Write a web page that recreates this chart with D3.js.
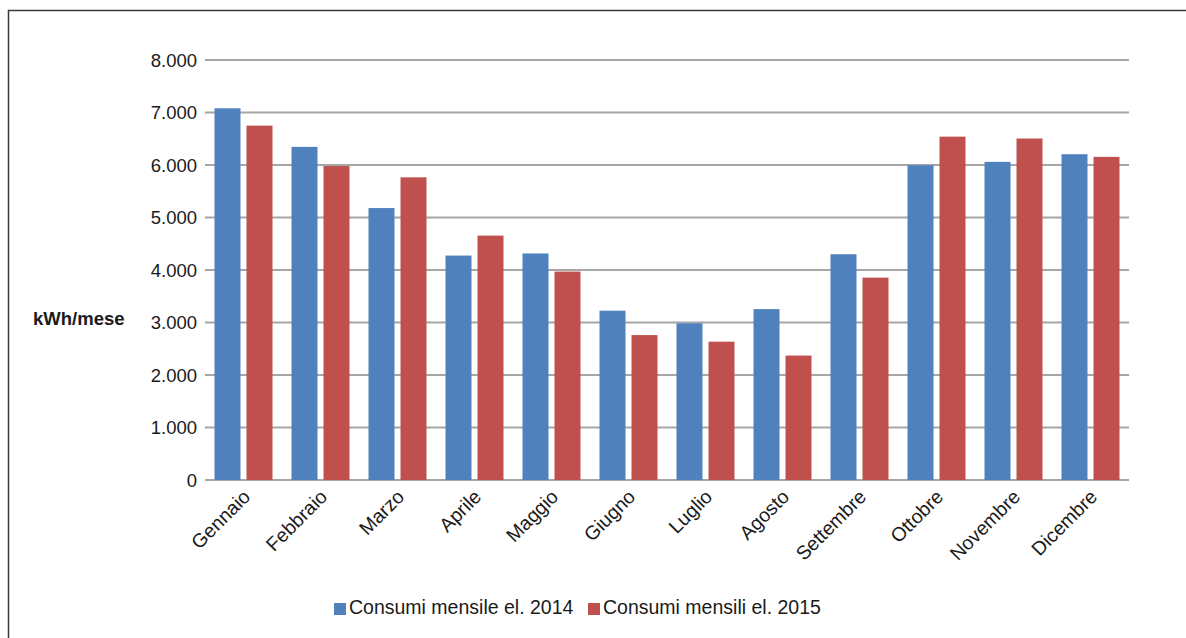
<!DOCTYPE html>
<html>
<head>
<meta charset="utf-8">
<script src="https://cdn.jsdelivr.net/npm/d3@7"></script>
<style>
  html, body { margin: 0; padding: 0; background: #fff; }
  svg { display: block; }
  text { font-family: "Liberation Sans", Arial, sans-serif; fill: #1a1a1a; }
</style>
</head>
<body>
<svg id="chart" width="1186" height="638"></svg>
<script>
// Monthly electricity consumption, kWh per month
const months = ["Gennaio", "Febbraio", "Marzo", "Aprile", "Maggio", "Giugno",
                "Luglio", "Agosto", "Settembre", "Ottobre", "Novembre", "Dicembre"];
const consumi2014 = [7080, 6345, 5180, 4275, 4315, 3225, 2985, 3255, 4300, 5995, 6060, 6205];
const consumi2015 = [6750, 5980, 5765, 4655, 3970, 2760, 2635, 2370, 3855, 6540, 6505, 6155];
const seriesNames = ["Consumi mensile el. 2014", "Consumi mensili el. 2015"];
const seriesColors = ["#4f81bd", "#c0504d"];
const yTicks = [0, 1000, 2000, 3000, 4000, 5000, 6000, 7000, 8000];
const yLabel = "kWh/mese";

const svg = d3.select("#chart");
const plot = { left: 205, right: 1129, top: 60, bottom: 480 };

// Outer frame (open on the right and bottom edges of the page)
svg.append("path")
  .attr("d", "M8.5,640 L8.5,10.5 L1190,10.5")
  .attr("fill", "none")
  .attr("stroke", "#3a3a3a")
  .attr("stroke-width", 1.5);

const x0 = d3.scaleBand()
  .domain(months)
  .range([plot.left, plot.right])
  .paddingInner(19 / 77)
  .paddingOuter(19 / 154);

const x1 = d3.scaleBand()
  .domain([0, 1])
  .range([0, x0.bandwidth()])
  .paddingInner(0.1875);

const y = d3.scaleLinear()
  .domain([0, 8000])
  .range([plot.bottom, plot.top]);

const fmt = v => d3.format(",")(v).replace(/,/g, ".");

// Horizontal grid lines
svg.append("g")
  .selectAll("line")
  .data(yTicks)
  .join("line")
  .attr("x1", plot.left)
  .attr("x2", plot.right)
  .attr("y1", d => y(d))
  .attr("y2", d => y(d))
  .attr("stroke", "#a6a6a6")
  .attr("stroke-width", 2);

// Y axis labels
svg.append("g")
  .selectAll("text")
  .data(yTicks)
  .join("text")
  .attr("x", 197)
  .attr("y", d => y(d))
  .attr("dy", "0.36em")
  .attr("text-anchor", "end")
  .attr("font-size", 18.5)
  .text(fmt);

// Y axis title
svg.append("text")
  .attr("x", 33)
  .attr("y", 325)
  .attr("font-size", 18.5)
  .attr("font-weight", "bold")
  .text(yLabel);

// Bars
const rows = months.map((m, i) => ({ month: m, values: [consumi2014[i], consumi2015[i]] }));
svg.append("g")
  .selectAll("g")
  .data(rows)
  .join("g")
  .attr("transform", d => `translate(${x0(d.month)},0)`)
  .selectAll("rect")
  .data(d => d.values.map((v, k) => ({ k, v })))
  .join("rect")
  .attr("x", d => x1(d.k))
  .attr("width", x1.bandwidth())
  .attr("y", d => y(d.v))
  .attr("height", d => y(0) - y(d.v))
  .attr("fill", d => seriesColors[d.k]);

// Month labels, rotated 45 degrees
svg.append("g")
  .selectAll("text")
  .data(months)
  .join("text")
  .attr("transform", d => `translate(${x0(d) + x0.bandwidth() / 2 + 8},${plot.bottom + 18}) rotate(-45)`)
  .attr("text-anchor", "end")
  .attr("font-size", 19.5)
  .text(d => d);

// Legend
const legend = svg.append("g");
const legendX = [334, 588];
seriesNames.forEach((name, k) => {
  legend.append("rect")
    .attr("x", legendX[k])
    .attr("y", 603)
    .attr("width", 12)
    .attr("height", 12)
    .attr("fill", seriesColors[k]);
  legend.append("text")
    .attr("x", legendX[k] + 15)
    .attr("y", 614)
    .attr("font-size", 19.5)
    .text(name);
});
</script>
</body>
</html>
